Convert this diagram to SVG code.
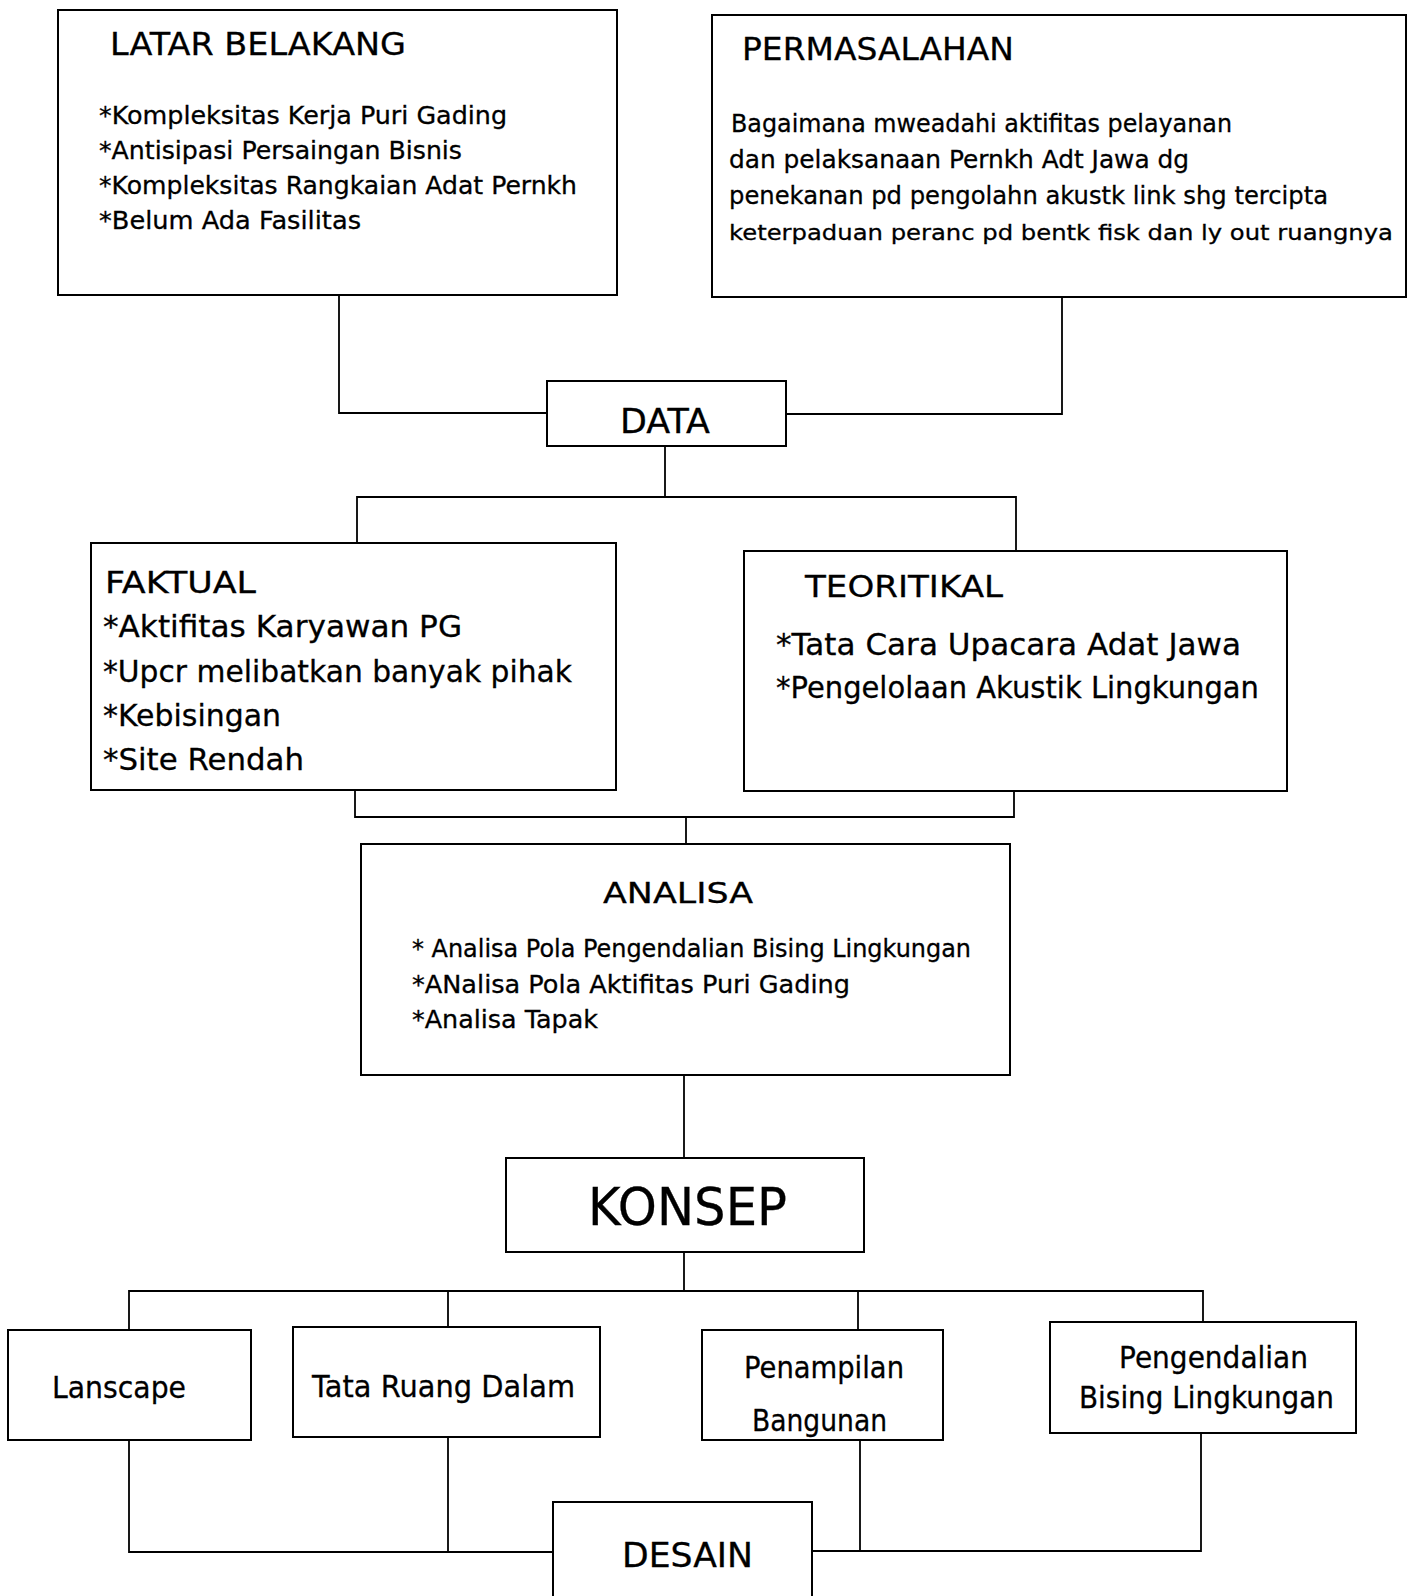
<svg xmlns="http://www.w3.org/2000/svg" width="1408" height="1596" viewBox="0 0 1408 1596">
<style>
  .box { fill: #ffffff; stroke: #000000; stroke-width: 2; }
  .con { fill: none; stroke: #000000; stroke-width: 1.8; }
  text { font-family: "DejaVu Sans", "Liberation Sans", sans-serif; fill: #000000; stroke: #000000; stroke-width: 0.3; }
</style>
<rect width="1408" height="1596" fill="#ffffff"/>
<g id="connectors">
  <path class="con" d="M339 295 V413 H547"/>
  <path class="con" d="M1062 297 V414 H786"/>
  <path class="con" d="M665 446 V497"/>
  <path class="con" d="M357 542 V497 H1016 V550"/>
  <path class="con" d="M355 790 V817 H1014 V791"/>
  <path class="con" d="M686 817 V844"/>
  <path class="con" d="M684 1075 V1158"/>
  <path class="con" d="M684 1252 V1291"/>
  <path class="con" d="M129 1330 V1291 H1203 V1322"/>
  <path class="con" d="M448 1291 V1327"/>
  <path class="con" d="M858 1291 V1330"/>
  <path class="con" d="M129 1440 V1552 H553"/>
  <path class="con" d="M448 1437 V1552"/>
  <path class="con" d="M860 1440 V1551"/>
  <path class="con" d="M812 1551 H1201 V1433"/>
</g>
<g id="latar-belakang">
  <rect class="box" x="58" y="10" width="559" height="285"/>
  <text x="110" y="55" font-size="32" textLength="296" lengthAdjust="spacingAndGlyphs">LATAR BELAKANG</text>
  <text x="99" y="124" font-size="24" textLength="408" lengthAdjust="spacingAndGlyphs">*Kompleksitas Kerja Puri Gading</text>
  <text x="99" y="159" font-size="24" textLength="363" lengthAdjust="spacingAndGlyphs">*Antisipasi Persaingan Bisnis</text>
  <text x="99" y="194" font-size="24" textLength="478" lengthAdjust="spacingAndGlyphs">*Kompleksitas Rangkaian Adat Pernkh</text>
  <text x="99" y="229" font-size="24" textLength="262" lengthAdjust="spacingAndGlyphs">*Belum Ada Fasilitas</text>
</g>
<g id="permasalahan">
  <rect class="box" x="712" y="15" width="694" height="282"/>
  <text x="742" y="60" font-size="32" textLength="272" lengthAdjust="spacingAndGlyphs">PERMASALAHAN</text>
  <text x="731" y="132" font-size="24" textLength="501" lengthAdjust="spacingAndGlyphs">Bagaimana mweadahi aktifitas pelayanan</text>
  <text x="729" y="168" font-size="24" textLength="460" lengthAdjust="spacingAndGlyphs">dan pelaksanaan Pernkh Adt Jawa dg</text>
  <text x="729" y="204" font-size="24" textLength="599" lengthAdjust="spacingAndGlyphs">penekanan pd pengolahn akustk link shg tercipta</text>
  <text x="729" y="240" font-size="22" textLength="664" lengthAdjust="spacingAndGlyphs">keterpaduan peranc pd bentk fisk dan ly out ruangnya</text>
</g>
<g id="data">
  <rect class="box" x="547" y="381" width="239" height="65"/>
  <text x="620" y="433" font-size="34" textLength="90" lengthAdjust="spacingAndGlyphs">DATA</text>
</g>
<g id="faktual">
  <rect class="box" x="91" y="543" width="525" height="247"/>
  <text x="105" y="593" font-size="30" textLength="151" lengthAdjust="spacingAndGlyphs">FAKTUAL</text>
  <text x="103" y="637" font-size="31" textLength="359" lengthAdjust="spacingAndGlyphs">*Aktifitas Karyawan PG</text>
  <text x="103" y="682" font-size="31" textLength="469" lengthAdjust="spacingAndGlyphs">*Upcr melibatkan banyak pihak</text>
  <text x="103" y="726" font-size="31" textLength="178" lengthAdjust="spacingAndGlyphs">*Kebisingan</text>
  <text x="103" y="770" font-size="31" textLength="201" lengthAdjust="spacingAndGlyphs">*Site Rendah</text>
</g>
<g id="teoritikal">
  <rect class="box" x="744" y="551" width="543" height="240"/>
  <text x="805" y="597" font-size="31" textLength="198" lengthAdjust="spacingAndGlyphs">TEORITIKAL</text>
  <text x="776" y="655" font-size="31" textLength="465" lengthAdjust="spacingAndGlyphs">*Tata Cara Upacara Adat Jawa</text>
  <text x="776" y="698" font-size="31" textLength="483" lengthAdjust="spacingAndGlyphs">*Pengelolaan Akustik Lingkungan</text>
</g>
<g id="analisa">
  <rect class="box" x="361" y="844" width="649" height="231"/>
  <text x="603" y="903" font-size="29" textLength="150" lengthAdjust="spacingAndGlyphs">ANALISA</text>
  <text x="412" y="957" font-size="24" textLength="559" lengthAdjust="spacingAndGlyphs">* Analisa Pola Pengendalian Bising Lingkungan</text>
  <text x="412" y="993" font-size="24" textLength="438" lengthAdjust="spacingAndGlyphs">*ANalisa Pola Aktifitas Puri Gading</text>
  <text x="412" y="1028" font-size="24" textLength="186" lengthAdjust="spacingAndGlyphs">*Analisa Tapak</text>
</g>
<g id="konsep">
  <rect class="box" x="506" y="1158" width="358" height="94"/>
  <text x="588" y="1225" font-size="52" textLength="199" lengthAdjust="spacingAndGlyphs">KONSEP</text>
</g>
<g id="lanscape">
  <rect class="box" x="8" y="1330" width="243" height="110"/>
  <text x="52" y="1398" font-size="31" textLength="134" lengthAdjust="spacingAndGlyphs">Lanscape</text>
</g>
<g id="tata-ruang-dalam">
  <rect class="box" x="293" y="1327" width="307" height="110"/>
  <text x="312" y="1397" font-size="31" textLength="263" lengthAdjust="spacingAndGlyphs">Tata Ruang Dalam</text>
</g>
<g id="penampilan-bangunan">
  <rect class="box" x="702" y="1330" width="241" height="110"/>
  <text x="744" y="1378" font-size="31" textLength="160" lengthAdjust="spacingAndGlyphs">Penampilan</text>
  <text x="752" y="1431" font-size="31" textLength="135" lengthAdjust="spacingAndGlyphs">Bangunan</text>
</g>
<g id="pengendalian-bising">
  <rect class="box" x="1050" y="1322" width="306" height="111"/>
  <text x="1119" y="1368" font-size="30" textLength="189" lengthAdjust="spacingAndGlyphs">Pengendalian</text>
  <text x="1079" y="1408" font-size="30" textLength="255" lengthAdjust="spacingAndGlyphs">Bising Lingkungan</text>
</g>
<g id="desain">
  <rect class="box" x="553" y="1502" width="259" height="110"/>
  <text x="622" y="1567" font-size="33" textLength="131" lengthAdjust="spacingAndGlyphs">DESAIN</text>
</g>
</svg>
